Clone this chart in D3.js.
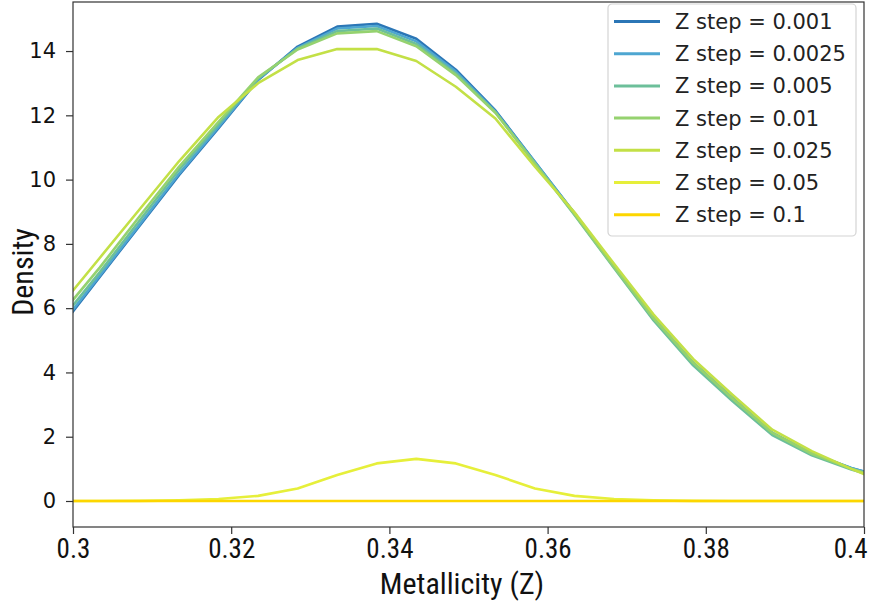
<!DOCTYPE html>
<html>
<head>
<meta charset="utf-8">
<script src="https://cdn.jsdelivr.net/npm/d3@7"></script>
<style>
  html, body { margin: 0; padding: 0; background: #fff; }
  svg { display: block; }
  .cond { font-family: "Liberation Sans Narrow", "Roboto Condensed", "Arial Narrow", "DejaVu Sans Condensed", sans-serif; }
</style>
</head>
<body>
<svg id="chart" width="872" height="601"></svg>
<script>
// Metallicity grid (Z) at which each density curve is sampled
const zValues = [0.2984, 0.3034, 0.3084, 0.3134, 0.3184, 0.3234, 0.3284, 0.3334, 0.3384, 0.3434, 0.3484,
                 0.3534, 0.3584, 0.3634, 0.3684, 0.3734, 0.3784, 0.3834, 0.3884, 0.3934, 0.3984, 0.4034];

// Density for each Z step size
const density001  = [5.39, 6.98, 8.56, 10.14, 11.6, 13.1, 14.14, 14.76, 14.85, 14.38, 13.42, 12.15, 10.55, 8.95, 7.32, 5.68, 4.3, 3.2, 2.12, 1.48, 1.02, 0.68];
const density0025 = [5.45, 7.02, 8.6, 10.18, 11.64, 13.12, 14.1, 14.7, 14.78, 14.3, 13.36, 12.12, 10.55, 8.95, 7.3, 5.7, 4.3, 3.2, 2.12, 1.48, 1.03, 0.68];
const density005  = [5.6, 7.12, 8.72, 10.3, 11.72, 13.15, 14.08, 14.62, 14.7, 14.22, 13.3, 12.1, 10.5, 8.9, 7.25, 5.62, 4.22, 3.1, 2.05, 1.42, 0.98, 0.62];
const density01   = [5.78, 7.27, 8.85, 10.4, 11.8, 13.18, 14.05, 14.55, 14.62, 14.15, 13.25, 12.08, 10.5, 8.92, 7.28, 5.68, 4.3, 3.18, 2.12, 1.47, 1.0, 0.63];
const density025  = [6.07, 7.57, 9.07, 10.57, 11.95, 13.0, 13.72, 14.06, 14.06, 13.69, 12.89, 11.9, 10.4, 8.98, 7.38, 5.8, 4.42, 3.3, 2.22, 1.55, 1.0, 0.5];
const density05   = [0, 0, 0.005, 0.02, 0.06, 0.16, 0.39, 0.81, 1.17, 1.31, 1.17, 0.81, 0.39, 0.16, 0.06, 0.02, 0.005, 0, 0, 0, 0, 0];
const density1    = [0, 0, 0, 0, 0, 0, 0, 0, 0, 0, 0, 0, 0, 0, 0, 0, 0, 0, 0, 0, 0, 0];

const seriesLabels = ["Z step = 0.001", "Z step = 0.0025", "Z step = 0.005", "Z step = 0.01",
                      "Z step = 0.025", "Z step = 0.05", "Z step = 0.1"];
const seriesColors = ["#2b76b6", "#4ea6d1", "#6cbf9a", "#95d26f", "#c3e046", "#e6ef3a", "#fdd600"];
const seriesValues = [density001, density0025, density005, density01, density025, density05, density1];

const xTicks = [0.3, 0.32, 0.34, 0.36, 0.38, 0.4];
const xTickLabels = ["0.3", "0.32", "0.34", "0.36", "0.38", "0.4"];
const yTicks = [0, 2, 4, 6, 8, 10, 12, 14];

const width = 872, height = 601;
const margin = { top: 2, right: 8, bottom: 74, left: 73 };

const svg = d3.select("#chart");

const x = d3.scaleLinear().domain([0.3, 0.4]).range([margin.left, width - margin.right]);
const y = d3.scaleLinear().domain([-0.809, 15.526]).range([height - margin.bottom, margin.top]);

svg.append("defs").append("clipPath").attr("id", "plot-clip")
  .append("rect")
  .attr("x", margin.left).attr("y", margin.top)
  .attr("width", width - margin.left - margin.right)
  .attr("height", height - margin.top - margin.bottom);

// Curves: first series drawn first so later ones sit on top
const line = d3.line().x((d, i) => x(zValues[i])).y(d => y(d));
const curves = svg.append("g").attr("clip-path", "url(#plot-clip)");
seriesValues.forEach((vals, k) => {
  curves.append("path")
    .datum(vals)
    .attr("d", line)
    .attr("fill", "none")
    .attr("stroke", seriesColors[k])
    .attr("stroke-width", 2.6)
    .attr("stroke-linejoin", "round");
});

// Frame
svg.append("rect")
  .attr("x", margin.left).attr("y", margin.top)
  .attr("width", width - margin.left - margin.right)
  .attr("height", height - margin.top - margin.bottom)
  .attr("fill", "none").attr("stroke", "#333").attr("stroke-width", 1.2);

// Axes
const xAxis = svg.append("g")
  .attr("transform", `translate(0,${height - margin.bottom})`)
  .call(d3.axisBottom(x).tickValues(xTicks).tickFormat((d, i) => xTickLabels[i]).tickSize(7).tickPadding(5));
xAxis.select(".domain").remove();
xAxis.selectAll("line").attr("stroke", "#333").attr("stroke-width", 1.2);
xAxis.selectAll("text").attr("class", "cond").attr("font-size", 27).attr("fill", "#111");
// keep the last label inside the canvas
xAxis.selectAll(".tick").filter(d => d === 0.4).select("text")
  .attr("text-anchor", "end").attr("x", 3);

const yAxis = svg.append("g")
  .attr("transform", `translate(${margin.left},0)`)
  .call(d3.axisLeft(y).tickValues(yTicks).tickFormat(d3.format("d")).tickSize(7).tickPadding(10));
yAxis.select(".domain").remove();
yAxis.selectAll("line").attr("stroke", "#333").attr("stroke-width", 1.2);
yAxis.selectAll("text").attr("font-family", "DejaVu Sans, sans-serif").attr("font-size", 21).attr("fill", "#111");

// Axis titles
svg.append("text")
  .attr("class", "cond")
  .attr("x", 462)
  .attr("y", 594)
  .attr("text-anchor", "middle")
  .attr("font-size", 30)
  .attr("fill", "#111")
  .text("Metallicity (Z)");

svg.append("text")
  .attr("class", "cond")
  .attr("transform", "translate(33,272) rotate(-90)")
  .attr("text-anchor", "middle")
  .attr("font-size", 30)
  .attr("fill", "#111")
  .text("Density");

// Legend
const legend = svg.append("g").attr("transform", "translate(608,4)");
legend.append("rect")
  .attr("width", 248).attr("height", 232)
  .attr("rx", 4).attr("ry", 4)
  .attr("fill", "#fff").attr("fill-opacity", 0.85)
  .attr("stroke", "#d4d4d4").attr("stroke-width", 1.2);
seriesLabels.forEach((label, k) => {
  const row = legend.append("g").attr("transform", `translate(0,${17.5 + k * 32.2})`);
  row.append("line")
    .attr("x1", 6).attr("x2", 52)
    .attr("stroke", seriesColors[k]).attr("stroke-width", 3);
  row.append("text")
    .attr("x", 67).attr("y", 0)
    .attr("dy", "0.36em")
    .attr("font-family", "DejaVu Sans, sans-serif")
    .attr("font-size", 21)
    .attr("fill", "#222")
    .text(label);
});
</script>
</body>
</html>
